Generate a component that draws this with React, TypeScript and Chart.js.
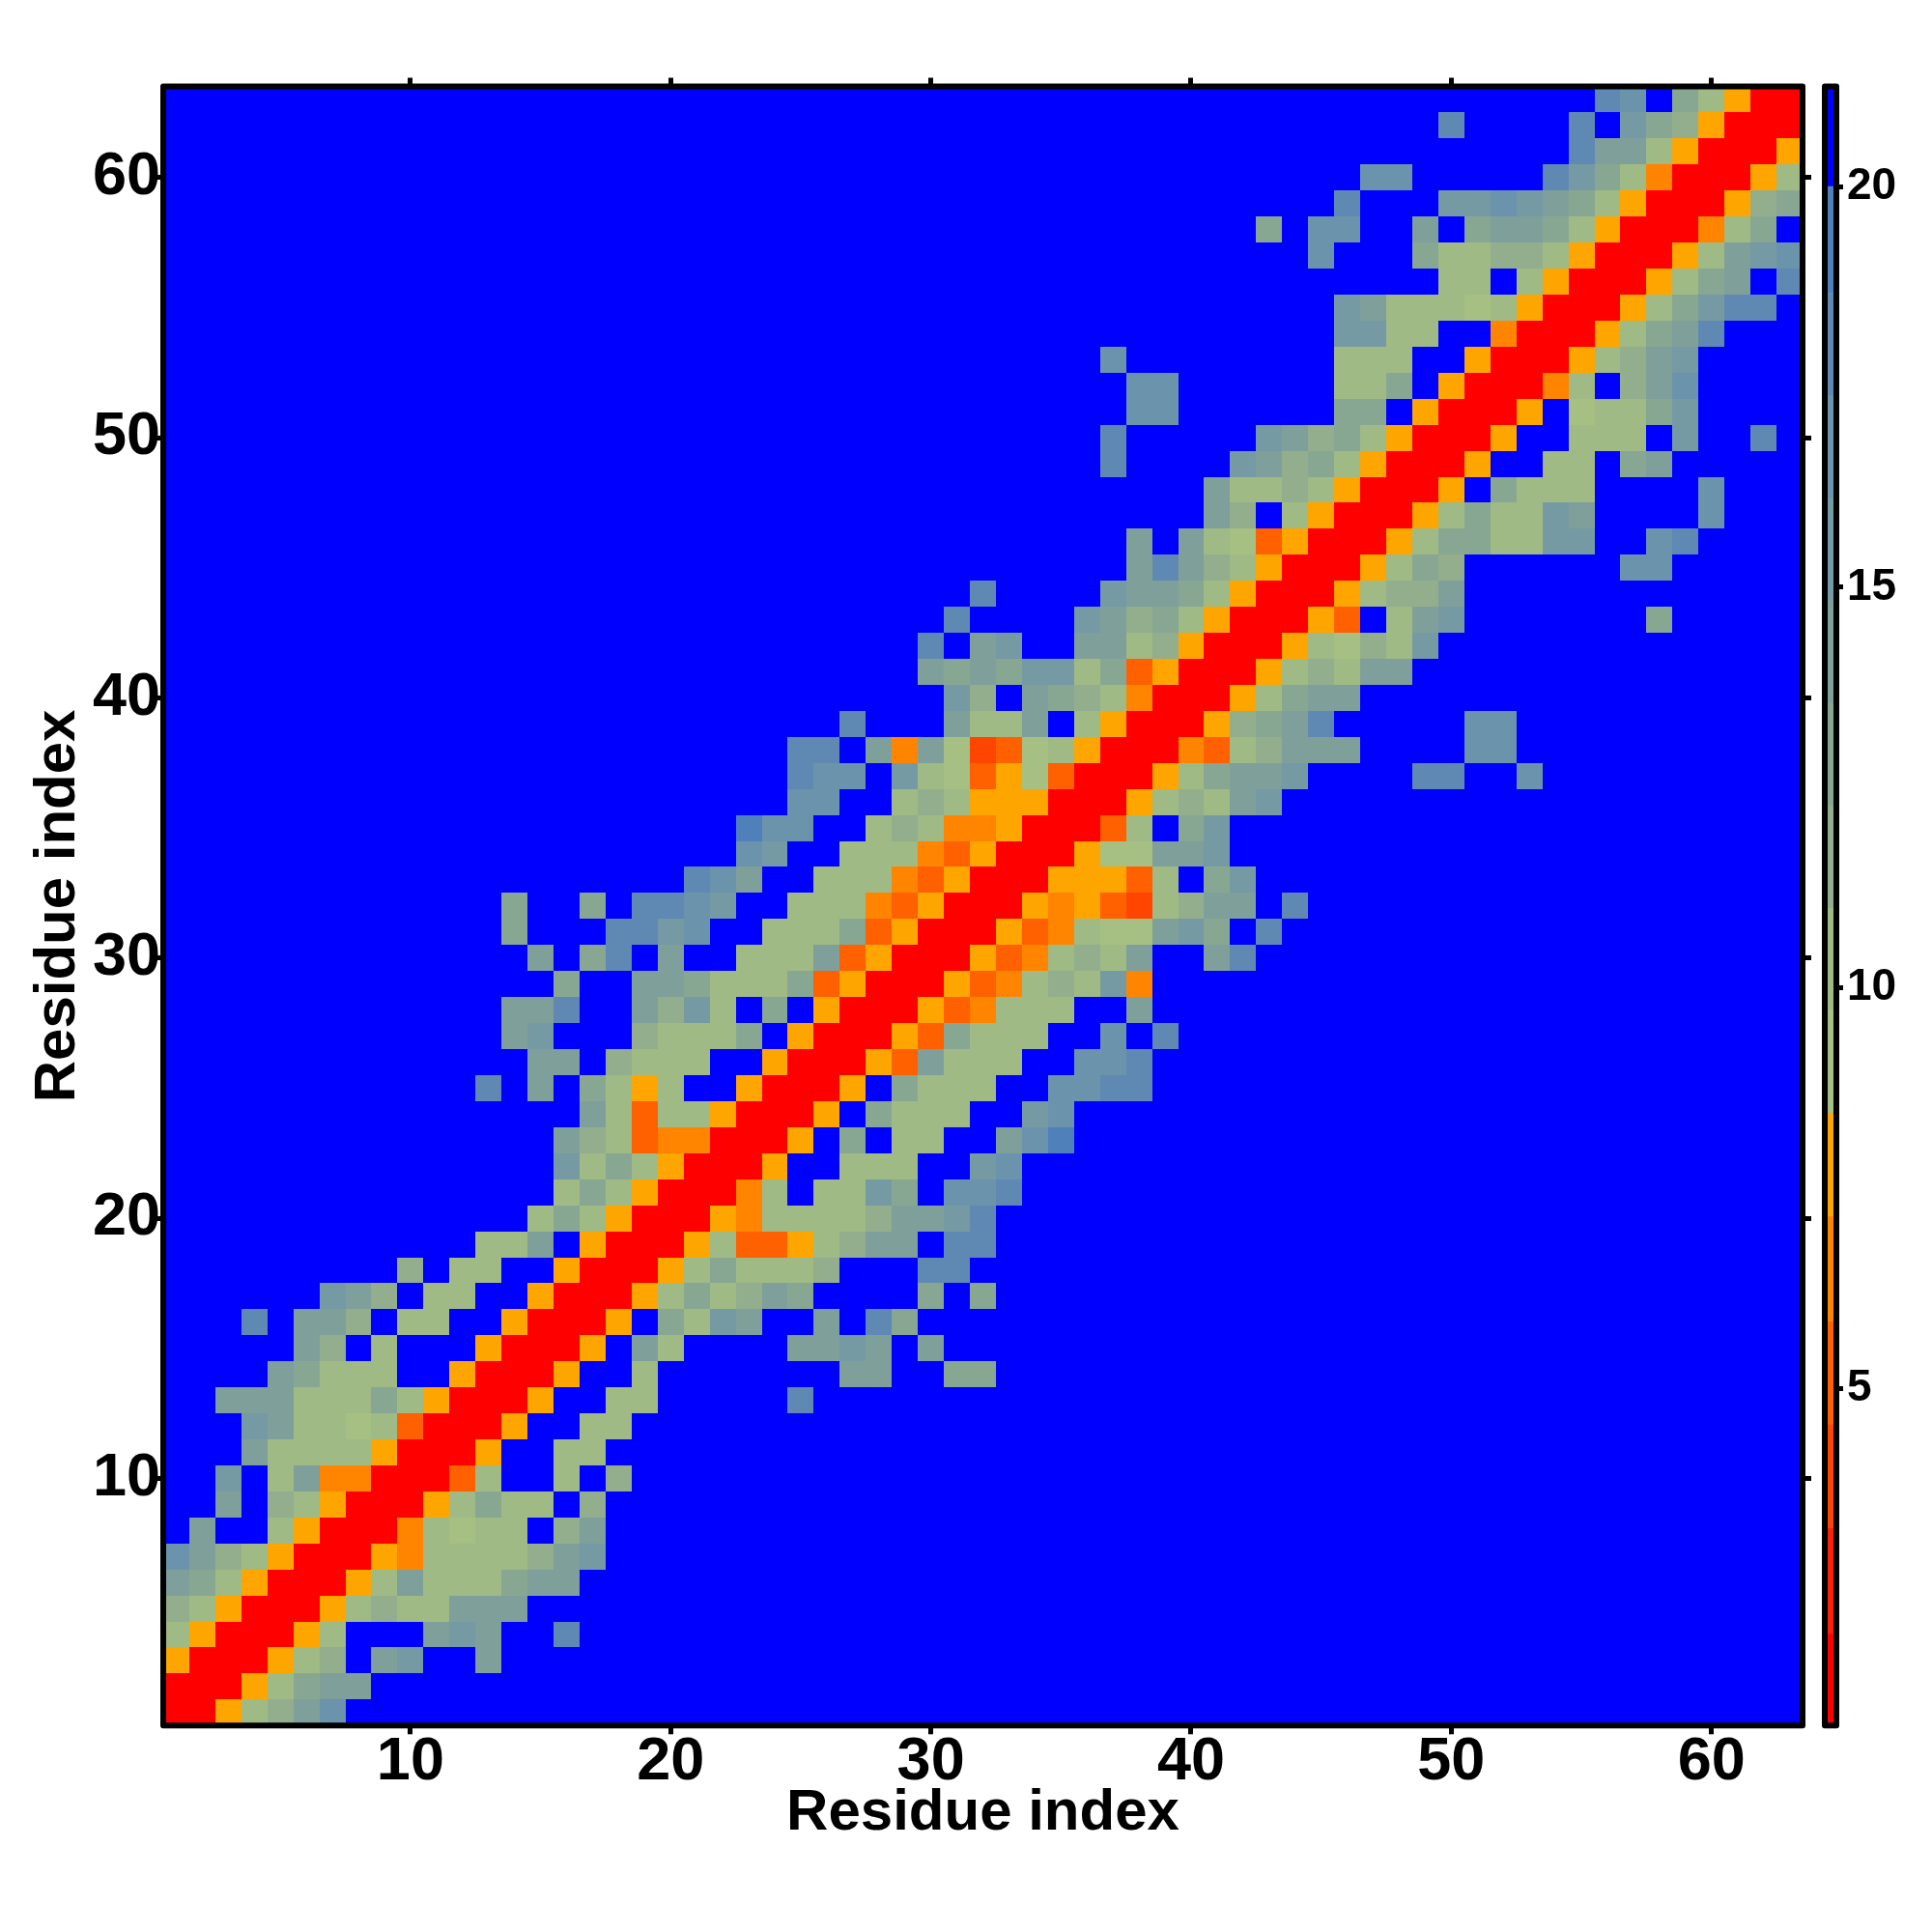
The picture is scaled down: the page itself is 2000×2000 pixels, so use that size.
import React, { useEffect, useRef } from "react";
import { Chart, registerables, DatasetController, Element } from "chart.js";

Chart.register(...registerables);

// Colour bins (value edges and one colour per bin)
const binEdges = [0.79, 1.93, 3.25, 4.55, 5.83, 7.14, 8.43, 9.71, 10.99, 12.27, 13.55, 14.83, 16.11, 17.39, 18.67, 20.0, 21.25];
const binColors = [
  "#ff0000", "#ff2000", "#ff4500", "#ff6000", "#ff8500", "#ffa500",
  "#a6bf82", "#9fba85", "#93ae8c", "#88a793", "#7f9f9a", "#769aa3", "#6c93ac", "#5f89b2", "#4f80ba",
  "#0000ff",
];

// Distance (Å-like) read per code: band of the colour bar, at its middle
const codeValues: Record<string, number> = {
  R: 1.4, D: 3.9, E: 5.2, F: 6.5, O: 7.8,
  "1": 9.1, "2": 10.3, "3": 11.6, "4": 12.9, "5": 14.2, "6": 15.5, "7": 16.8, "8": 18.0, "9": 19.3,
  ".": 20.6,
};

// Upper triangle of the symmetric map: entry n starts on the diagonal at residue n+1
const triangleRows = [
  "RRO2357",
  "RRO2455",
  "RRO23.56..5",
  "RRO2...565..8",
  "RRO2322555",
  "RRO25222455",
  "RROF2222356",
  "RRF2122.35",
  "RRO2422.3",
  "RRE2..2.3",
  "RRO..22",
  "RRO..22",
  "RRO..22.....8",
  "RRO..2.......55..44",
  "RRO.52....5565.5",
  "RRO.4265..5.84",
  "RRO242354....4.4",
  "RRO242223...88",
  "RRO2EEO2355.88",
  "RROF222235568",
  "RRF2.2264.778",
  "RRO..222..67",
  "RRO.4.22..579",
  "RRO.4222..67",
  "RRO.4222..7788",
  "RROE5222..778",
  "RROE4222..7.8",
  "RROEF222..5",
  "RROEF2326F",
  "RROEF2325..58",
  "RROEF211564.8",
  "RROFOED2355.8",
  "RROOOE2.46",
  "RRO11556",
  "RRE2.46",
  "RRO23256",
  "RRO24556....88..7",
  "RRFE23555....77",
  "RRO3458.....77",
  "RRO2455",
  "RRO23255",
  "RRO21326",
  "RROE.256.......4",
  "RRO2335",
  "RRO243......77",
  "RRO2442266..78",
  "RRO242265....7",
  "RRO.4222....7",
  "RRO..22.45",
  "RRO..222.6..8",
  "RRO.12246",
  "RRF2.357",
  "RRO2356",
  "RRO2458",
  "RRO24688",
  "RRO245.8",
  "RRO2567",
  "RRF24",
  "RRO34",
  "RRO2",
  "RRO",
  "RR",
  "R",
];

const residueTicks = [10, 20, 30, 40, 50, 60];
const colorbarTicks = [5, 10, 15, 20];
const axisTitle = "Residue index";
const residueCount = triangleRows.length;

function colorFor(v: number) {
  for (let i = 0; i < binColors.length; i++) {
    if (v < binEdges[i + 1]) return binColors[i];
  }
  return binColors[binColors.length - 1];
}

function buildCells() {
  const cells: { x: number; y: number; v: number }[] = [];
  for (let y = 1; y <= residueCount; y++) {
    for (let x = 1; x <= residueCount; x++) {
      const lo = Math.min(x, y);
      const hi = Math.max(x, y);
      const code = triangleRows[lo - 1][hi - lo] ?? ".";
      cells.push({ x, y, v: codeValues[code] });
    }
  }
  return cells;
}

class HeatCell extends Element {
  static id = "heatCell";
  static defaults = {};
  draw(ctx: CanvasRenderingContext2D) {
    const s = this as any;
    ctx.fillStyle = s.color;
    ctx.fillRect(s.left, s.top, s.right - s.left, s.bottom - s.top);
  }
}

class HeatController extends DatasetController {
  static id = "heat";
  static defaults = { dataElementType: "heatCell", datasetElementType: false };
  update() {
    const meta = (this as any)._cachedMeta;
    (this as any).updateElements(meta.data, 0, meta.data.length);
  }
  updateElements(elements: any[], start: number, count: number) {
    const meta = (this as any)._cachedMeta;
    const raw = (this as any).getDataset().data;
    for (let i = start; i < start + count; i++) {
      const p = (this as any).getParsed(i);
      const a = Math.round(meta.xScale.getPixelForValue(p.x - 0.5));
      const b = Math.round(meta.xScale.getPixelForValue(p.x + 0.5));
      const c = Math.round(meta.yScale.getPixelForValue(p.y + 0.5));
      const d = Math.round(meta.yScale.getPixelForValue(p.y - 0.5));
      Object.assign(elements[i], { x: (a + b) / 2, y: (c + d) / 2, left: a, right: b, top: c, bottom: d, color: colorFor(raw[i].v) });
    }
  }
  draw() {
    const meta = (this as any)._cachedMeta;
    const ctx = (this as any)._ctx;
    for (const el of meta.data) el.draw(ctx);
  }
}
Chart.register(HeatCell as any, HeatController as any);

const framePlugin = {
  id: "frame",
  afterDatasetsDraw(chart: any) {
    const { ctx, chartArea: a } = chart;
    ctx.save();
    ctx.lineWidth = 6;
    ctx.lineJoin = "round";
    ctx.strokeStyle = "#000";
    ctx.strokeRect(a.left, a.top, a.right - a.left, a.bottom - a.top);
    ctx.restore();
  },
};

const FONT = "'Liberation Sans', Arial, sans-serif";
const AREA = { left: 169, right: 1866, top: 89.5, bottom: 1786.3 };

function residueAxis(position: string, showLabels: boolean, size: number, title: any, padding: number) {
  const horizontal = position === "bottom" || position === "top";
  return {
    type: "linear",
    position,
    min: 0.5,
    max: residueCount + 0.5,
    afterBuildTicks: (s: any) => {
      s.ticks = residueTicks.map((value) => ({ value }));
    },
    afterFit: (s: any) => {
      if (horizontal) s.height = size;
      else s.width = size;
    },
    grid: { display: true, drawOnChartArea: false, drawTicks: true, tickLength: 9, tickWidth: 5, tickColor: "#000" },
    border: { display: false },
    ticks: {
      display: showLabels,
      autoSkip: false,
      maxRotation: 0,
      minRotation: 0,
      padding,
      color: "#000",
      font: { family: FONT, weight: "bold", size: 63, lineHeight: 1 },
      callback: (v: number) => String(v),
    },
    title,
  };
}

export default function App() {
  const mainRef = useRef<HTMLCanvasElement>(null);
  const barRef = useRef<HTMLCanvasElement>(null);

  useEffect(() => {
    const main = new Chart(mainRef.current!, {
      type: "heat" as any,
      data: { datasets: [{ data: buildCells() as any }] },
      plugins: [framePlugin],
      options: {
        responsive: false,
        animation: false,
        devicePixelRatio: 1,
        events: [],
        layout: { padding: 0 },
        plugins: { legend: { display: false }, tooltip: { enabled: false }, title: { display: false } },
        scales: {
          x: residueAxis("bottom", true, 2000 - AREA.bottom, {
            display: true,
            text: axisTitle,
            color: "#000",
            font: { family: FONT, weight: "bold", size: 60, lineHeight: 1 },
            padding: { top: 0, bottom: 93 },
          }, -2),
          y: residueAxis("left", true, AREA.left, {
            display: true,
            text: axisTitle,
            color: "#000",
            font: { family: FONT, weight: "bold", size: 60, lineHeight: 1 },
            padding: { top: 30, bottom: 0 },
          }, -6),
          xTop: residueAxis("top", false, AREA.top, { display: false }, 0),
          yRight: residueAxis("right", false, 2000 - AREA.right, { display: false }, 0),
        } as any,
      } as any,
    } as any);

    const bar = new Chart(barRef.current!, {
      type: "bar",
      data: {
        labels: ["distance"],
        datasets: binColors.map((c, i) => ({
          data: [[binEdges[i], binEdges[i + 1]]] as any,
          backgroundColor: c,
          borderWidth: 0,
          grouped: false,
          barPercentage: 1,
          categoryPercentage: 1,
        })),
      },
      plugins: [framePlugin],
      options: {
        responsive: false,
        animation: false,
        devicePixelRatio: 1,
        events: [],
        layout: { padding: { left: 19, top: AREA.top, bottom: 2000 - AREA.bottom, right: 0 } },
        plugins: { legend: { display: false }, tooltip: { enabled: false }, title: { display: false } },
        scales: {
          x: { display: false, type: "category" },
          y: {
            type: "linear",
            position: "right",
            min: binEdges[0],
            max: binEdges[binEdges.length - 1],
            afterBuildTicks: (s: any) => {
              s.ticks = colorbarTicks.map((value) => ({ value }));
            },
            afterFit: (s: any) => {
              s.width = 99;
            },
            grid: { display: true, drawOnChartArea: false, drawTicks: true, tickLength: 7, tickWidth: 5, tickColor: "#000" },
            border: { display: false },
            ticks: {
              autoSkip: false,
              padding: 4,
              color: "#000",
              font: { family: FONT, weight: "bold", size: 46, lineHeight: 1 },
              callback: (v: number) => String(v),
            },
          },
        } as any,
      } as any,
    } as any);

    return () => {
      main.destroy();
      bar.destroy();
    };
  }, []);

  return (
    <div style={{ position: "absolute", left: 0, top: 0, width: 2000, height: 2000, background: "#fff" }}>
      <canvas ref={mainRef} width={2000} height={2000} style={{ position: "absolute", left: 0, top: 0 }} />
      <canvas ref={barRef} width={130} height={2000} style={{ position: "absolute", left: 1870, top: 0 }} />
    </div>
  );
}
